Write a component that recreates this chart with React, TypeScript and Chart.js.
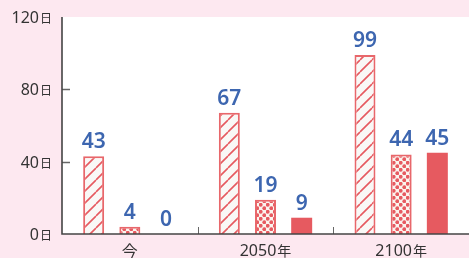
import React, { useEffect, useRef } from "react";
import { Chart, registerables } from "chart.js";

Chart.register(...registerables);

const categories = ["今", "2050年", "2100年"];
const hatchedValues = [43, 67, 99];
const dottedValues = [4, 19, 44];
const solidValues = [0, 9, 45];
const yTicks = [0, 40, 80, 120];
const yUnit = "日";

const RED = "#e65a60";
const BLUE = "#3d66b0";
const PINK = "#fde8f0";
const FONT = '"Noto Sans", "Noto Sans CJK JP", sans-serif';
const CJK = '"Noto Sans CJK JP", sans-serif';

function makeHatch(): CanvasPattern | string {
  const c = document.createElement("canvas");
  const s = 12;
  c.width = s;
  c.height = s;
  const g = c.getContext("2d");
  if (!g) return "#fff";
  g.fillStyle = "#f9f8f6";
  g.fillRect(0, 0, s, s);
  g.strokeStyle = RED;
  g.lineWidth = 1.6;
  g.beginPath();
  for (const o of [-s, 0, s]) {
    g.moveTo(o, s);
    g.lineTo(o + s, 0);
  }
  g.stroke();
  return g.createPattern(c, "repeat") || "#fff";
}

function makeDots(): CanvasPattern | string {
  const c = document.createElement("canvas");
  const s = 7;
  c.width = s;
  c.height = s;
  const g = c.getContext("2d");
  if (!g) return RED;
  g.fillStyle = "#fbf4ee";
  g.fillRect(0, 0, s, s);
  g.fillStyle = RED;
  const pts = [
    [1.75, 1.75],
    [5.25, 5.25],
  ];
  for (const [x, y] of pts) {
    g.beginPath();
    g.arc(x, y, 1.9, 0, Math.PI * 2);
    g.fill();
  }
  return g.createPattern(c, "repeat") || RED;
}

function drawMixed(
  ctx: CanvasRenderingContext2D,
  num: string,
  unit: string,
  x: number,
  baseline: number,
  numFont: string,
  unitFont: string,
  align: "right" | "center"
) {
  ctx.font = numFont;
  const w1 = ctx.measureText(num).width;
  ctx.font = unitFont;
  const w2 = unit ? ctx.measureText(unit).width + 1 : 0;
  const total = w1 + w2;
  const start = align === "right" ? x - total : x - total / 2;
  ctx.textAlign = "left";
  ctx.textBaseline = "alphabetic";
  ctx.font = numFont;
  ctx.fillText(num, start, baseline);
  if (unit) {
    ctx.font = unitFont;
    ctx.fillText(unit, start + w1 + 1, baseline);
  }
}

const bgPlugin = {
  id: "bgPlugin",
  beforeDraw(chart: any) {
    const { ctx, chartArea, width, height } = chart;
    ctx.save();
    ctx.fillStyle = PINK;
    ctx.fillRect(0, 0, width, height);
    ctx.fillStyle = "#ffffff";
    ctx.fillRect(chartArea.left, chartArea.top, width - chartArea.left, chartArea.bottom - chartArea.top);
    ctx.restore();
  },
  afterDatasetsDraw(chart: any) {
    const { ctx, chartArea, scales } = chart;
    const y = scales.y;
    const x = scales.x;
    ctx.save();
    ctx.strokeStyle = "#666";
    ctx.lineWidth = 1.5;
    for (const v of [40, 80]) {
      const py = Math.round(y.getPixelForValue(v)) + 0.5;
      ctx.beginPath();
      ctx.moveTo(chartArea.left, py);
      ctx.lineTo(chartArea.left + 8, py);
      ctx.stroke();
    }
    ctx.lineWidth = 1;
    for (let i = 0; i < categories.length - 1; i++) {
      const px = Math.round((x.getPixelForValue(i) + x.getPixelForValue(i + 1)) / 2) + 0.5;
      ctx.beginPath();
      ctx.moveTo(px, chartArea.bottom - 7);
      ctx.lineTo(px, chartArea.bottom);
      ctx.stroke();
    }
    ctx.fillStyle = "#333";
    for (const v of yTicks) {
      const py = y.getPixelForValue(v);
      drawMixed(ctx, String(v), yUnit, chartArea.left - 10, py + 6, `16px ${FONT}`, `12px ${CJK}`, "right");
    }
    categories.forEach((lab, i) => {
      const px = x.getPixelForValue(i);
      const m = lab.match(/^(\d+)(.*)$/);
      if (m) {
        drawMixed(ctx, m[1], m[2], px, chartArea.bottom + 22, `16px ${FONT}`, `14px ${CJK}`, "center");
      } else {
        ctx.font = `16px ${CJK}`;
        ctx.textAlign = "center";
        ctx.textBaseline = "alphabetic";
        ctx.fillText(lab, px, chartArea.bottom + 23);
      }
    });
    ctx.fillStyle = BLUE;
    ctx.font = `600 21px ${FONT}`;
    ctx.textAlign = "center";
    ctx.textBaseline = "alphabetic";
    chart.data.datasets.forEach((ds: any, di: number) => {
      const meta = chart.getDatasetMeta(di);
      meta.data.forEach((el: any, i: number) => {
        ctx.fillText(String(ds.data[i]), el.x, el.y - 8);
      });
    });
    ctx.strokeStyle = "#444";
    ctx.lineWidth = 1.6;
    ctx.beginPath();
    ctx.moveTo(chartArea.left, chartArea.top);
    ctx.lineTo(chartArea.left, chartArea.bottom);
    ctx.lineTo(chart.width, chartArea.bottom);
    ctx.stroke();
    ctx.restore();
  },
};

export default function App() {
  const ref = useRef<HTMLCanvasElement | null>(null);
  useEffect(() => {
    if (!ref.current) return;
    const hatch = makeHatch();
    const dots = makeDots();
    const common = {
      categoryPercentage: 0.8,
      barPercentage: 0.58,
      borderSkipped: "start" as const,
    };
    const chart = new Chart(ref.current, {
      type: "bar",
      data: {
        labels: categories,
        datasets: [
          { data: hatchedValues, backgroundColor: hatch as any, borderColor: "#e8676b", borderWidth: 2, ...common },
          { data: dottedValues, backgroundColor: dots as any, borderColor: "#e8676b", borderWidth: 2, ...common },
          { data: solidValues, backgroundColor: RED, borderWidth: 0, ...common },
        ],
      },
      options: {
        animation: false,
        responsive: false,
        maintainAspectRatio: false,
        layout: { padding: { top: 17, right: 0, left: 0, bottom: 0 } },
        plugins: { legend: { display: false }, tooltip: { enabled: false } },
        scales: {
          x: {
            grid: { display: false },
            border: { display: false },
            ticks: { display: false },
            afterFit(scale: any) {
              scale.height = 24;
            },
          },
          y: {
            min: 0,
            max: 120,
            afterBuildTicks(scale: any) {
              scale.ticks = yTicks.map((v) => ({ value: v }));
            },
            grid: { display: false },
            border: { display: false },
            ticks: { display: false },
            afterFit(scale: any) {
              scale.width = 62;
            },
          },
        },
      },
      plugins: [bgPlugin],
    });
    return () => chart.destroy();
  }, []);
  return (
    <div style={{ position: "fixed", left: 0, top: 0, width: 469, height: 258 }}>
      <canvas ref={ref} width={469} height={258} style={{ width: 469, height: 258, display: "block" }} />
    </div>
  );
}
